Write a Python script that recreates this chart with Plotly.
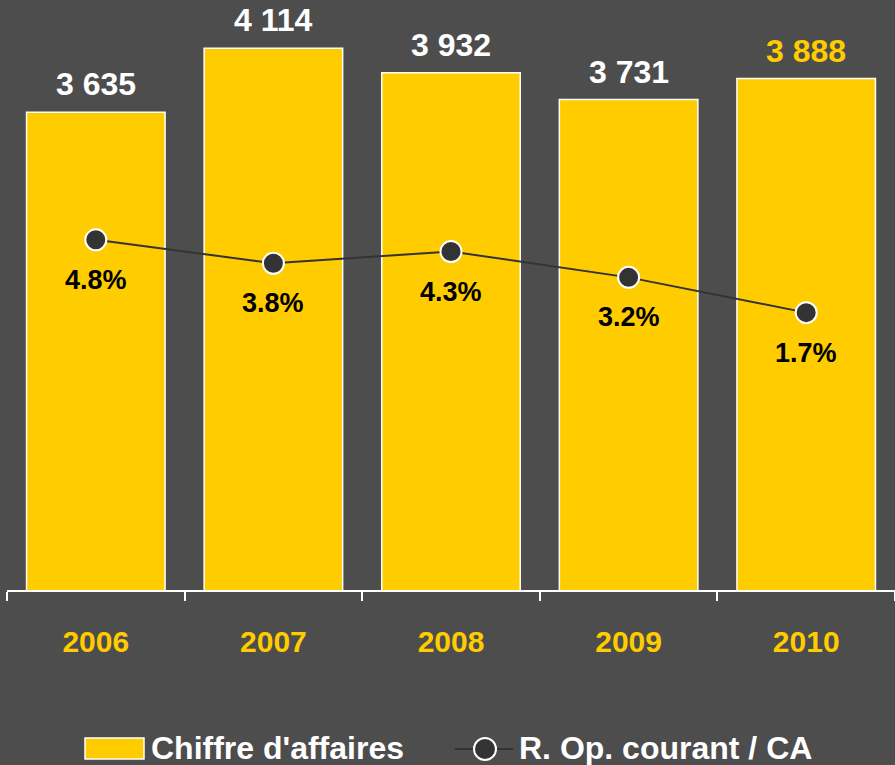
import plotly.graph_objects as go

years = ["2006", "2007", "2008", "2009", "2010"]
chiffre_affaires = [3635, 4114, 3932, 3731, 3888]
marge_pct = [4.8, 3.8, 4.3, 3.2, 1.7]

BG = "#4d4d4d"
YELLOW = "#ffcc00"
DARK = "#333333"
FONT = "Arial, Liberation Sans, sans-serif"

W, H = 895, 765
M_L, M_R, M_T, M_B = 7, 0, 0, 175


def px_x(x):
    return (x - M_L) / (W - M_L - M_R)


def px_y(y):
    return (H - M_B - y) / (H - M_T - M_B)


fig = go.Figure()

fig.add_trace(go.Bar(
    x=years,
    y=chiffre_affaires,
    name="Chiffre d'affaires",
    marker=dict(color=YELLOW, line=dict(color="white", width=1.5)),
    showlegend=False,
    hoverinfo="skip",
))

fig.add_trace(go.Scatter(
    x=years,
    y=marge_pct,
    name="R. Op. courant / CA",
    mode="lines+markers",
    yaxis="y2",
    line=dict(color=DARK, width=2),
    marker=dict(color=DARK, size=21, line=dict(color="white", width=2)),
    showlegend=False,
    hoverinfo="skip",
))

annotations = []
for i, v in enumerate(chiffre_affaires):
    color = YELLOW if i == len(years) - 1 else "white"
    annotations.append(dict(
        x=i, y=v, xref="x", yref="y",
        text=f"{v:,}".replace(",", " "),
        showarrow=False, yanchor="bottom", yshift=8,
        font=dict(family=FONT, size=32, color=color, weight="bold"),
    ))

for i, p in enumerate(marge_pct):
    annotations.append(dict(
        x=i, y=p, xref="x", yref="y2",
        text=f"{p:.1f}%",
        showarrow=False, yanchor="middle", yshift=-40,
        font=dict(family=FONT, size=27, color="black", weight="bold"),
    ))

# custom legend
ly = 748
annotations.append(dict(
    x=px_x(149), y=px_y(ly), xref="paper", yref="paper",
    text="Chiffre d'affaires", showarrow=False,
    xanchor="left", yanchor="middle",
    font=dict(family=FONT, size=32, color="white", weight="bold"),
))
annotations.append(dict(
    x=px_x(517), y=px_y(ly), xref="paper", yref="paper",
    text="R. Op. courant / CA", showarrow=False,
    xanchor="left", yanchor="middle",
    font=dict(family=FONT, size=32, color="white", weight="bold"),
))

shapes = [
    dict(type="rect", xref="paper", yref="paper",
         x0=px_x(85), x1=px_x(144), y0=px_y(738), y1=px_y(759),
         fillcolor=YELLOW, line=dict(color="white", width=1.5)),
    dict(type="line", xref="paper", yref="paper",
         x0=px_x(455), x1=px_x(513), y0=px_y(749), y1=px_y(749),
         line=dict(color=DARK, width=2)),
    dict(type="circle", xref="paper", yref="paper",
         x0=px_x(474), x1=px_x(496), y0=px_y(738), y1=px_y(760),
         fillcolor=DARK, line=dict(color="white", width=2)),
]

fig.update_layout(
    width=W, height=H,
    margin=dict(l=M_L, r=M_R, t=M_T, b=M_B),
    paper_bgcolor=BG, plot_bgcolor=BG,
    bargap=0.22,
    xaxis=dict(
        type="category", range=[-0.5, 4.5],
        showline=True, linecolor="white", linewidth=2,
        ticks="outside", tickson="boundaries", ticklen=9,
        tickwidth=2, tickcolor="white",
        showgrid=False, tickangle=0,
        tickfont=dict(family=FONT, size=30, color=YELLOW, weight="bold"),
        ticklabelstandoff=24,
    ),
    yaxis=dict(range=[60, 4476], visible=False, showgrid=False),
    yaxis2=dict(range=[-10.1, 15.0], overlaying="y", visible=False,
                showgrid=False),
    annotations=annotations,
    shapes=shapes,
    showlegend=False,
)

fig.write_html(
    "out.html",
    config={"displayModeBar": False},
    post_script="document.body.style.margin='0';",
)
